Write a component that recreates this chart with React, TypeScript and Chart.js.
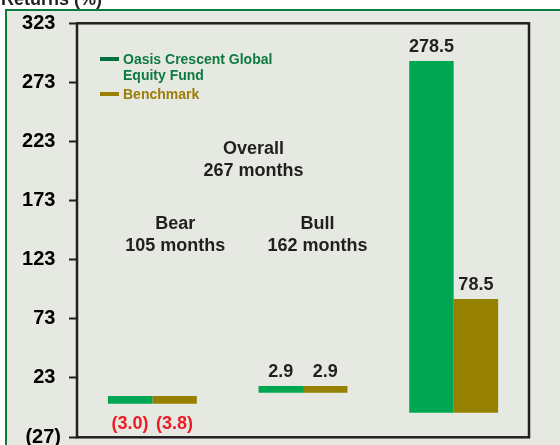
import React, { useEffect, useRef } from 'react';
import { Chart, registerables } from 'chart.js';

Chart.register(...registerables);

// ---- data ----
const categories = ['Bear', 'Bull', 'Overall'];
const periodMonths = [105, 162, 267];
const fundReturns = [-3.0, 2.9, 278.5];
const benchmarkReturns = [-3.8, 2.9, 78.5];
// bar extents as drawn in the picture, on the value axis
const fundBarStart = [1.2, 10.5, -6.5];
const fundBarEnd = [7.7, 16.1, 290.9];
const benchBarStart = [1.2, 10.5, -6.5];
const benchBarEnd = [7.7, 16.1, 89.7];
const yTicks = [-27, 23, 73, 123, 173, 223, 273, 323];
const seriesNames = [['Oasis Crescent Global', 'Equity Fund'], ['Benchmark']];
const axisTitle = 'Returns (%)';

// ---- styles ----
const FUND_BAR = '#00A651';
const BENCH_BAR = '#968000';
const FUND_LEGEND = '#00703C';
const BENCH_LEGEND = '#9A7F00';
const FUND_TEXT = '#0E7A40';
const BENCH_TEXT = '#9A7E08';
const DARK = '#231F20';
const RED = '#ED1C24';
const BG = '#E6E8E2';
const FONT = '"Liberation Sans", Arial, sans-serif';

// annotation anchors (category units, value units)
const annotationAnchors = [
  { idx: 0, x: 0.152, y: 148.8 },
  { idx: 1, x: 1.096, y: 148.8 },
  { idx: 2, x: 0.672, y: 212.3 },
];

const fmt = (v: number) => (v < 0 ? `(${Math.abs(v).toFixed(1)})` : v.toFixed(1));

const decor = {
  id: 'decor',
  beforeDraw(chart: any) {
    const { ctx, width, height } = chart;
    ctx.save();
    ctx.fillStyle = '#ffffff';
    ctx.fillRect(0, 0, width, height);
    ctx.fillStyle = BG;
    ctx.fillRect(6, 10, width - 6, height - 10);
    ctx.strokeStyle = '#0B7B3E';
    ctx.lineWidth = 2;
    ctx.beginPath();
    ctx.moveTo(6, height + 4);
    ctx.lineTo(6, 10);
    ctx.lineTo(width + 4, 10);
    ctx.stroke();
    ctx.fillStyle = DARK;
    ctx.font = `bold 18px ${FONT}`;
    ctx.textAlign = 'left';
    ctx.textBaseline = 'alphabetic';
    ctx.fillText(axisTitle, 1, 5);
    ctx.restore();
  },
  beforeDatasetsDraw(chart: any) {
    const { ctx, chartArea } = chart;
    const { left, top, right, bottom } = chartArea;
    const xs = chart.scales.x;
    const ys = chart.scales.y;
    ctx.save();
    // frame
    ctx.strokeStyle = DARK;
    ctx.lineWidth = 2.5;
    ctx.strokeRect(left, top + 0.3, right - left, bottom - top);

    // annotations
    ctx.fillStyle = DARK;
    ctx.font = `bold 18px ${FONT}`;
    ctx.textAlign = 'center';
    ctx.textBaseline = 'alphabetic';
    annotationAnchors.forEach((a) => {
      const px = xs.getPixelForValue(a.x);
      const py = ys.getPixelForValue(a.y);
      ctx.fillText(categories[a.idx], px, py);
      ctx.fillText(`${periodMonths[a.idx]} months`, px, py + 22);
    });

    // legend
    const legendColors = [FUND_LEGEND, BENCH_LEGEND];
    const textColors = [FUND_TEXT, BENCH_TEXT];
    const baselines = [[41, 57], [76]];
    ctx.font = `bold 14px ${FONT}`;
    ctx.textAlign = 'left';
    seriesNames.forEach((lines, i) => {
      const b0 = top + baselines[i][0];
      ctx.fillStyle = legendColors[i];
      ctx.fillRect(left + 23, b0 - 7, 19, 4);
      ctx.fillStyle = textColors[i];
      lines.forEach((t, j) => ctx.fillText(t, left + 46, top + baselines[i][j]));
    });
    ctx.restore();
  },
  afterDatasetsDraw(chart: any) {
    const { ctx } = chart;
    const values = [fundReturns, benchmarkReturns];
    ctx.save();
    ctx.font = `bold 18px ${FONT}`;
    ctx.textAlign = 'center';
    ctx.textBaseline = 'alphabetic';
    values.forEach((vals, di) => {
      const meta = chart.getDatasetMeta(di);
      meta.data.forEach((el: any, i: number) => {
        const v = vals[i];
        const topPx = Math.min(el.y, el.base);
        const botPx = Math.max(el.y, el.base);
        if (v < 0) {
          ctx.fillStyle = RED;
          ctx.fillText(fmt(v), el.x, botPx + 25);
        } else {
          ctx.fillStyle = DARK;
          ctx.fillText(fmt(v), el.x, topPx - 9);
        }
      });
    });
    ctx.restore();
  },
};

export default function App() {
  const ref = useRef<HTMLCanvasElement>(null);
  useEffect(() => {
    if (!ref.current) return;
    const chart = new Chart(ref.current, {
      type: 'bar',
      data: {
        labels: categories,
        datasets: [
          {
            label: seriesNames[0].join(' '),
            data: fundBarStart.map((s, i) => [s, fundBarEnd[i]]),
            backgroundColor: FUND_BAR,
            borderWidth: 0,
            borderSkipped: false,
            categoryPercentage: 0.59,
            barPercentage: 1,
          },
          {
            label: seriesNames[1].join(' '),
            data: benchBarStart.map((s, i) => [s, benchBarEnd[i]]),
            backgroundColor: BENCH_BAR,
            borderWidth: 0,
            borderSkipped: false,
            categoryPercentage: 0.59,
            barPercentage: 1,
          },
        ] as any,
      },
      options: {
        responsive: false,
        animation: false,
        layout: { padding: { top: 23, right: 31, bottom: 8, left: 0 } },
        plugins: {
          legend: { display: false },
          tooltip: { enabled: false },
          title: { display: false },
        },
        scales: {
          x: { display: false },
          y: {
            min: -27,
            max: 323,
            afterBuildTicks: (s: any) => {
              s.ticks = yTicks.map((v) => ({ value: v }));
            },
            afterFit: (s: any) => {
              s.width = 77;
              s.paddingTop = 0;
              s.paddingBottom = 0;
            },
            ticks: {
              color: '#000',
              padding: 8,
              font: { family: FONT, size: 20, weight: 'bold' },
              callback: (v: any) => (Number(v) < 0 ? `(${Math.abs(Number(v))})` : `${v} `),
            },
            grid: {
              drawOnChartArea: false,
              drawTicks: true,
              tickLength: 8,
              tickWidth: 2,
              tickColor: DARK,
            },
            border: { display: false },
          },
        },
      } as any,
      plugins: [decor],
    });
    return () => chart.destroy();
  }, []);
  return (
    <div style={{ position: 'absolute', left: 0, top: 0, width: 560, height: 445 }}>
      <canvas ref={ref} width={560} height={445} style={{ display: 'block' }} />
    </div>
  );
}
